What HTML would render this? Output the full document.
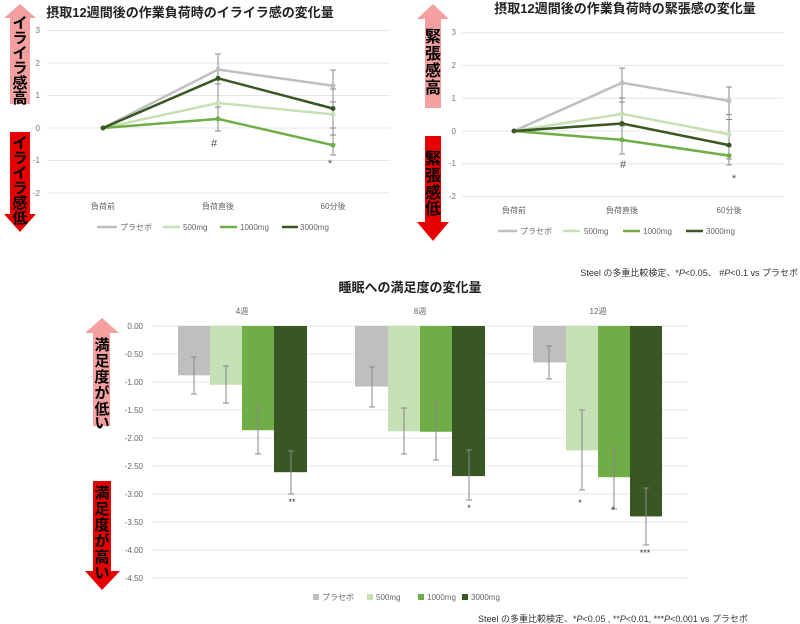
<!DOCTYPE html>
<html><head><meta charset="utf-8"><style>
html,body{margin:0;padding:0;background:#fff;}
svg{display:block;font-family:"Liberation Sans","Noto Sans CJK JP",sans-serif;}
</style></head><body>
<svg width="800" height="624" viewBox="0 0 800 624" xmlns="http://www.w3.org/2000/svg">
<!-- ========== TOP LEFT ========== -->
<text x="190" y="17" font-size="13" font-weight="bold" text-anchor="middle" fill="#222">摂取12週間後の作業負荷時のイライラ感の変化量</text>
<g stroke="#e6e6e6" stroke-width="1">
<line x1="47" x2="390" y1="30.5" y2="30.5"/><line x1="47" x2="390" y1="63" y2="63"/><line x1="47" x2="390" y1="95.5" y2="95.5"/><line x1="47" x2="390" y1="128" y2="128"/><line x1="47" x2="390" y1="160.5" y2="160.5"/><line x1="47" x2="390" y1="193" y2="193"/>
</g>
<g font-size="8" fill="#777" text-anchor="end">
<text x="40" y="33">3</text><text x="40" y="66">2</text><text x="40" y="98">1</text><text x="40" y="131">0</text><text x="40" y="163">-1</text><text x="40" y="196">-2</text>
</g>
<g font-size="8" fill="#666" text-anchor="middle">
<text x="103" y="209">負荷前</text><text x="218" y="209">負荷直後</text><text x="333" y="209">60分後</text>
</g>
<g stroke="#888" stroke-width="1" fill="none">
<path d="M218 54V131M215 54h6M215 131h6M333 70V155M330 70h6M330 155h6M215 84h6M215 107h6M330 89h6M330 102h6M330 128h6M330 135h6"/>
</g>
<g fill="none" stroke-width="2.5">
<polyline points="103,128 218,69.5 333,85.8" stroke="#bfbfbf"/>
<polyline points="103,128 218,103 333,114.4" stroke="#c5e0b4"/>
<polyline points="103,128 218,118.9 333,145.2" stroke="#70ad47"/>
<polyline points="103,128 218,78.3 333,108.5" stroke="#385723"/>
</g>
<g>
<circle cx="218" cy="69.5" r="2.5" fill="#bfbfbf"/><circle cx="333" cy="85.8" r="2.5" fill="#bfbfbf"/>
<circle cx="218" cy="103" r="2.5" fill="#c5e0b4"/><circle cx="333" cy="114.4" r="2.5" fill="#c5e0b4"/>
<circle cx="218" cy="118.9" r="2.5" fill="#70ad47"/><circle cx="333" cy="145.2" r="2.5" fill="#70ad47"/>
<circle cx="218" cy="78.3" r="2.5" fill="#385723"/><circle cx="333" cy="108.5" r="2.5" fill="#385723"/>
<circle cx="103" cy="128" r="2.5" fill="#385723"/>
</g>
<text x="214" y="147" font-size="11" fill="#555" text-anchor="middle">#</text>
<text x="330" y="167" font-size="11" fill="#555" text-anchor="middle">*</text>
<g stroke-width="2.5">
<line x1="97" x2="117" y1="227" y2="227" stroke="#bfbfbf"/><line x1="163" x2="180" y1="227" y2="227" stroke="#c5e0b4"/><line x1="220" x2="237" y1="227" y2="227" stroke="#70ad47"/><line x1="282" x2="298" y1="227" y2="227" stroke="#385723"/>
</g>
<g font-size="8" fill="#666">
<text x="120" y="230">プラセボ</text><text x="183" y="230">500mg</text><text x="240" y="230">1000mg</text><text x="300" y="230">3000mg</text>
</g>
<!-- arrows left -->
<polygon points="20,4 36,18 30,18 30,104 10,104 10,18 4,18" fill="#f4a0a0"/>
<polygon points="10,132 30,132 30,214 36,214 20,232 4,214 10,214" fill="#e60000"/>
<text font-size="15" font-weight="bold" fill="#000" text-anchor="middle"><tspan x="20" y="28">イ</tspan><tspan x="20" y="43">ラ</tspan><tspan x="20" y="58">イ</tspan><tspan x="20" y="73">ラ</tspan><tspan x="20" y="88">感</tspan><tspan x="20" y="103">高</tspan></text>
<text font-size="15" font-weight="bold" fill="#000" text-anchor="middle"><tspan x="20" y="148">イ</tspan><tspan x="20" y="163">ラ</tspan><tspan x="20" y="178">イ</tspan><tspan x="20" y="193">ラ</tspan><tspan x="20" y="208">感</tspan><tspan x="20" y="223">低</tspan></text>

<!-- ========== TOP RIGHT ========== -->
<text x="625" y="13" font-size="13" font-weight="bold" text-anchor="middle" fill="#222">摂取12週間後の作業負荷時の緊張感の変化量</text>
<g stroke="#e6e6e6" stroke-width="1">
<line x1="462" x2="783" y1="32.6" y2="32.6"/><line x1="462" x2="783" y1="65.4" y2="65.4"/><line x1="462" x2="783" y1="98.2" y2="98.2"/><line x1="462" x2="783" y1="131" y2="131"/><line x1="462" x2="783" y1="163.8" y2="163.8"/><line x1="462" x2="783" y1="196.6" y2="196.6"/>
</g>
<g font-size="8" fill="#777" text-anchor="end">
<text x="456" y="35">3</text><text x="456" y="68">2</text><text x="456" y="101">1</text><text x="456" y="134">0</text><text x="456" y="166">-1</text><text x="456" y="199">-2</text>
</g>
<g font-size="8" fill="#666" text-anchor="middle">
<text x="514" y="213">負荷前</text><text x="622" y="213">負荷直後</text><text x="729" y="213">60分後</text>
</g>
<g stroke="#888" stroke-width="1" fill="none">
<path d="M622 68V154M619 68h6M619 154h6M619 98h6M619 102h6M619 124h6M619 126h6M729 87V165M726 87h6M726 165h6M726 114.6h6M726 119.5h6M726 159h6M726 146h6"/>
</g>
<g fill="none" stroke-width="2.5">
<polyline points="514,131 622,82.8 729,100.8" stroke="#bfbfbf"/>
<polyline points="514,131 622,113.9 729,134.3" stroke="#c5e0b4"/>
<polyline points="514,131 622,139.9 729,155.6" stroke="#70ad47"/>
<polyline points="514,131 622,123.5 729,145.1" stroke="#385723"/>
</g>
<g>
<circle cx="622" cy="82.8" r="2.5" fill="#bfbfbf"/><circle cx="729" cy="100.8" r="2.5" fill="#bfbfbf"/>
<circle cx="622" cy="113.9" r="2.5" fill="#c5e0b4"/><circle cx="729" cy="134.3" r="2.5" fill="#c5e0b4"/>
<circle cx="622" cy="139.9" r="2.5" fill="#70ad47"/><circle cx="729" cy="155.6" r="2.5" fill="#70ad47"/>
<circle cx="622" cy="123.5" r="2.5" fill="#385723"/><circle cx="729" cy="145.1" r="2.5" fill="#385723"/>
<circle cx="514" cy="131" r="2.5" fill="#385723"/>
</g>
<text x="623" y="168" font-size="11" fill="#555" text-anchor="middle">#</text>
<text x="734" y="182" font-size="11" fill="#555" text-anchor="middle">*</text>
<g stroke-width="2.5">
<line x1="498" x2="517" y1="231" y2="231" stroke="#bfbfbf"/><line x1="563" x2="580" y1="231" y2="231" stroke="#c5e0b4"/><line x1="623" x2="640" y1="231" y2="231" stroke="#70ad47"/><line x1="686" x2="703" y1="231" y2="231" stroke="#385723"/>
</g>
<g font-size="8" fill="#666">
<text x="520" y="234">プラセボ</text><text x="584" y="234">500mg</text><text x="643" y="234">1000mg</text><text x="706" y="234">3000mg</text>
</g>
<polygon points="433,4 449,19 441,19 441,108 425,108 425,19 417,19" fill="#f4a0a0"/>
<polygon points="425,136 441,136 441,222 449,222 433,241 417,222 425,222" fill="#e60000"/>
<text font-size="16" font-weight="bold" fill="#000" text-anchor="middle"><tspan x="433" y="42">緊</tspan><tspan x="433" y="59">張</tspan><tspan x="433" y="76">感</tspan><tspan x="433" y="93">高</tspan></text>
<text font-size="16" font-weight="bold" fill="#000" text-anchor="middle"><tspan x="433" y="164">緊</tspan><tspan x="433" y="181">張</tspan><tspan x="433" y="198">感</tspan><tspan x="433" y="214">低</tspan></text>
<text x="798" y="276" font-size="9" fill="#333" text-anchor="end">Steel の多重比較検定、*<tspan font-style="italic">P</tspan>&lt;0.05、 #<tspan font-style="italic">P</tspan>&lt;0.1 vs プラセボ</text>

<!-- ========== BOTTOM ========== -->
<text x="410" y="292" font-size="13" font-weight="bold" text-anchor="middle" fill="#222">睡眠への満足度の変化量</text>
<g font-size="8" fill="#666" text-anchor="middle"><text x="242" y="314">4週</text><text x="420" y="314">8週</text><text x="598" y="314">12週</text></g>
<g stroke="#e6e6e6" stroke-width="1">
<line x1="153" x2="687" y1="326" y2="326"/><line x1="153" x2="687" y1="354" y2="354"/><line x1="153" x2="687" y1="382" y2="382"/><line x1="153" x2="687" y1="410" y2="410"/><line x1="153" x2="687" y1="438" y2="438"/><line x1="153" x2="687" y1="466" y2="466"/><line x1="153" x2="687" y1="494" y2="494"/><line x1="153" x2="687" y1="522" y2="522"/><line x1="153" x2="687" y1="550" y2="550"/><line x1="153" x2="687" y1="578" y2="578"/>
</g>
<g font-size="8" fill="#666" text-anchor="end">
<text x="143" y="329">0.00</text><text x="143" y="357">-0.50</text><text x="143" y="385">-1.00</text><text x="143" y="413">-1.50</text><text x="143" y="441">-2.00</text><text x="143" y="469">-2.50</text><text x="143" y="497">-3.00</text><text x="143" y="525">-3.50</text><text x="143" y="553">-4.00</text><text x="143" y="581">-4.50</text>
</g>
<g>
<rect x="178" y="326" width="32" height="49.3" fill="#bfbfbf"/>
<rect x="210" y="326" width="32" height="58.8" fill="#c5e0b4"/>
<rect x="242" y="326" width="32" height="104.2" fill="#70ad47"/>
<rect x="274" y="326" width="33" height="146.2" fill="#385723"/>
<rect x="355" y="326" width="33" height="60.5" fill="#bfbfbf"/>
<rect x="388" y="326" width="32" height="105.3" fill="#c5e0b4"/>
<rect x="420" y="326" width="32" height="105.8" fill="#70ad47"/>
<rect x="452" y="326" width="33" height="150.1" fill="#385723"/>
<rect x="533" y="326" width="33" height="36.4" fill="#bfbfbf"/>
<rect x="566" y="326" width="32" height="124.3" fill="#c5e0b4"/>
<rect x="598" y="326" width="32" height="151.2" fill="#70ad47"/>
<rect x="630" y="326" width="32" height="190.4" fill="#385723"/>
</g>
<g stroke="#888" stroke-width="1" fill="none">
<path d="M194 357V394M191 357h6M191 394h6"/>
<path d="M226 366V403M223 366h6M223 403h6"/>
<path d="M258 406V454M255 406h6M255 454h6"/>
<path d="M291 451V494M288 451h6M288 494h6"/>
<path d="M372 367V407M369 367h6M369 407h6"/>
<path d="M404 408V454M401 408h6M401 454h6"/>
<path d="M436 403V460M433 403h6M433 460h6"/>
<path d="M469 450V500M466 450h6M466 500h6"/>
<path d="M549 346V379M546 346h6M546 379h6"/>
<path d="M582 410V490M579 410h6M579 490h6"/>
<path d="M614 448V509M611 448h6M611 509h6"/>
<path d="M646 488V545M643 488h6M643 545h6"/>
</g>
<g font-size="9" fill="#333" text-anchor="middle">
<text x="292" y="505">**</text><text x="469" y="511">*</text><text x="580" y="506">*</text><text x="613" y="513">*</text><text x="645" y="556">***</text>
</g>
<g>
<rect x="313" y="594" width="6" height="6" fill="#bfbfbf"/><rect x="367" y="594" width="6" height="6" fill="#c5e0b4"/><rect x="418" y="594" width="6" height="6" fill="#70ad47"/><rect x="462" y="594" width="6" height="6" fill="#385723"/>
</g>
<g font-size="8" fill="#666"><text x="322" y="600">プラセボ</text><text x="376" y="600">500mg</text><text x="427" y="600">1000mg</text><text x="471" y="600">3000mg</text></g>
<text x="478" y="622" font-size="9" fill="#333">Steel の多重比較検定、*<tspan font-style="italic">P</tspan>&lt;0.05 , **<tspan font-style="italic">P</tspan>&lt;0.01, ***<tspan font-style="italic">P</tspan>&lt;0.001 vs プラセボ</text>
<polygon points="102,318 119,333 110,333 110,426 93,426 93,333 85,333" fill="#f4a0a0"/>
<polygon points="93,481 111,481 111,571 120,571 102,590 85,571 93,571" fill="#e60000"/>
<text font-size="15" font-weight="bold" fill="#000" text-anchor="middle"><tspan x="102" y="350">満</tspan><tspan x="102" y="366">足</tspan><tspan x="102" y="382">度</tspan><tspan x="102" y="398">が</tspan><tspan x="102" y="414">低</tspan><tspan x="102" y="428">い</tspan></text>
<text font-size="15" font-weight="bold" fill="#000" text-anchor="middle"><tspan x="102" y="498">満</tspan><tspan x="102" y="514">足</tspan><tspan x="102" y="530">度</tspan><tspan x="102" y="546">が</tspan><tspan x="102" y="562">高</tspan><tspan x="102" y="578">い</tspan></text>
</svg>
</body></html>
